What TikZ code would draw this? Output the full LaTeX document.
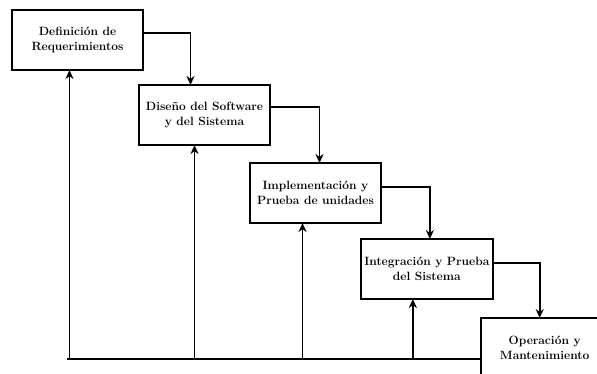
\documentclass[tikz,border=0pt]{standalone}
\usepackage{tikz}
\usetikzlibrary{arrows, arrows.meta}
\usetikzlibrary{positioning}
\tikzstyle{stage} = [rectangle, 
minimum width=131pt, 
minimum height=60pt, 
text centered, 
align=center, 
font=\bfseries\fontsize{12}{15}\selectfont, 
draw=black, 
line width=2pt, 
outer sep=0pt, 
fill=white]
\tikzstyle{arrow} = [line width=1.8pt,->,>={Stealth[length=9pt,width=8pt]}]
\tikzstyle{line} = [line width=1.8pt]
\begin{document}
\begin{tikzpicture}[x=1pt, y=1pt]

        \clip (0,0) rectangle (597,-373);

        \node (req) [stage, anchor=north west] at (12,-10) 
        {Definición de \\ Requerimientos};
        \node (design) [stage, below right=15pt and -4pt of req] 
        {Diseño del Software \\ y del Sistema};
        \node (impl) [stage, below right=18pt and -20pt of design] 
        {Implementación y \\ Prueba de unidades};
        \node (integ) [stage, below right=16pt and -20pt of impl] 
        {Integración y Prueba \\ del Sistema};
        \node (oper) [stage, minimum width=128pt, below right=19pt and -12pt of integ] 
        {Operación y \\ Mantenimiento};

        % cascada
        \draw [arrow] ([yshift=7pt]req.east) -| ([xshift=-14pt]design.north);
        \draw [arrow] ([yshift=8pt]design.east) -| ([xshift=4pt]impl.north);
        \draw [arrow] ([yshift=6pt]impl.east) -| ([xshift=3pt]integ.north);
        \draw [arrow] ([yshift=6pt]integ.east) -| ([xshift=-5pt]oper.north);

        % retroalimentacion
        \coordinate (fb) at (67,-359);
        \draw [line] (fb) -- (fb -| oper.west);
        \draw [arrow] ([xshift=-8pt]req.south |- fb) -- ([xshift=-8pt]req.south);
        \draw [arrow] ([xshift=-10pt]design.south |- fb) -- ([xshift=-10pt]design.south);
        \draw [arrow] ([xshift=-13pt]impl.south |- fb) -- ([xshift=-13pt]impl.south);
        \draw [arrow] ([xshift=-14pt]integ.south |- fb) -- ([xshift=-14pt]integ.south);

\end{tikzpicture}
\end{document}
